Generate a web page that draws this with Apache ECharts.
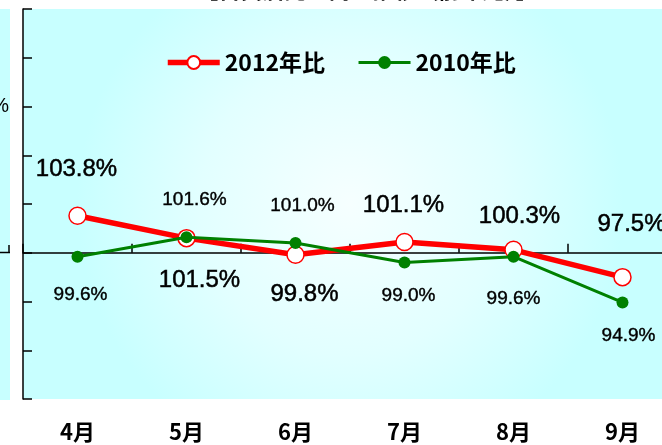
<!DOCTYPE html>
<html>
<head>
<meta charset="utf-8">
<script src="https://cdn.jsdelivr.net/npm/echarts@6/dist/echarts.min.js"></script>
<style>
html,body{margin:0;padding:0;background:#fff;overflow:hidden;}
#c{width:677px;height:445px;}
</style>
</head>
<body>
<div id="c"></div>
<script>
// ---- data ----
const months = ['4月', '5月', '6月', '7月', '8月', '9月'];
const seriesNames = ['2012年比', '2010年比'];
const vs2012 = [103.8, 101.5, 99.8, 101.1, 100.3, 97.5];
const vs2010 = [99.6, 101.6, 101.0, 99.0, 99.6, 94.9];
const baseline = 100;
const yMin = 85, yMax = 125, yStep = 5;
const titleText = '【百貨店売上高の推移（前年比）】';

// ---- label placement (layout only) ----
const offs2012 = [[-1,-46],[13,42],[9,40],[-1,-37],[6,-33],[9,-53]];
const offs2010 = [[3,38],[8,-37],[7,-37],[4,33],[0,42],[6,33]];

const labelFont = '"Liberation Sans", Arial, sans-serif';
const bigSize = 24;
const smallSize = 19;

const fmt = v => v.toFixed(1) + '%';

function build(vals, offs, size) {
  return vals.map((v, i) => ({
    value: +(v - baseline).toFixed(2),
    label: { offset: offs[i], formatter: fmt(v), fontSize: size }
  }));
}

const chart = echarts.init(document.getElementById('c'), null, {renderer: 'canvas'});
chart.setOption({
  animation: false,
  backgroundColor: '#ffffff',
  textStyle: { fontFamily: labelFont },
  grid: {
    left: 23, top: 9, right: 0, bottom: 46,
    show: true, borderWidth: 0,
    backgroundColor: {
      type: 'radial', x: 0.5, y: 0.5, r: 0.7,
      colorStops: [
        { offset: 0, color: '#f6ffff' },
        { offset: 0.55, color: '#e2ffff' },
        { offset: 1, color: '#c8ffff' }
      ]
    }
  },
  legend: {
    left: 160, top: 46,
    itemWidth: 52, itemHeight: 16, itemGap: 32,
    textStyle: { fontFamily: 'Noto Sans CJK JP', fontWeight: 'bold', fontSize: 23, color: '#000' },
    data: [
      { name: seriesNames[0], lineStyle: { width: 5.5 } },
      { name: seriesNames[1], lineStyle: { width: 3 } }
    ]
  },
  xAxis: [{
    type: 'category', data: months, position: 'bottom', boundaryGap: true,
    axisLine: { onZero: true, lineStyle: { color: '#000', width: 1.5 } },
    axisTick: { show: true, inside: true, length: 9, lineStyle: { color: '#000', width: 1.5 } },
    axisLabel: { show: false }
  }, {
    type: 'category', data: months, position: 'bottom', boundaryGap: true,
    axisLine: { show: false, onZero: false },
    axisTick: { show: false },
    axisLabel: { show: true, margin: 22, color: '#000', fontFamily: 'Noto Sans CJK JP', fontWeight: 'bold', fontSize: 22 }
  }],
  yAxis: {
    type: 'value', min: yMin - baseline, max: yMax - baseline, interval: yStep,
    axisLine: { show: true, lineStyle: { color: '#000', width: 1.5 } },
    axisTick: { show: true, inside: true, length: 9, lineStyle: { color: '#000', width: 1.5 } },
    axisLabel: { show: false },
    splitLine: { show: false }
  },
  series: [{
    name: seriesNames[0], type: 'line', xAxisIndex: 0,
    data: build(vs2012, offs2012, bigSize),
    symbol: 'circle', symbolSize: 17,
    lineStyle: { color: '#ff0000', width: 5.5 },
    itemStyle: { color: '#ffffff', borderColor: '#ff0000', borderWidth: 1.5 },
    label: { show: true, position: 'inside', color: '#000', fontFamily: labelFont, textBorderColor: '#000', textBorderWidth: 0.5 },
    emphasis: { disabled: true },
    z: 2
  }, {
    name: seriesNames[1], type: 'line', xAxisIndex: 0,
    data: build(vs2010, offs2010, smallSize),
    symbol: 'circle', symbolSize: 12,
    lineStyle: { color: '#008000', width: 3 },
    itemStyle: { color: '#008000', borderColor: '#008000', borderWidth: 0 },
    label: { show: true, position: 'inside', color: '#000', fontFamily: labelFont, textBorderColor: '#000', textBorderWidth: 0.4 },
    emphasis: { disabled: true },
    z: 3
  }],
  graphic: [
    { type: 'rect', shape: { x: 0, y: 9, width: 10, height: 391 }, style: { fill: '#c8ffff' }, silent: true },
    { type: 'line', shape: { x1: 0, y1: 252.5, x2: 10, y2: 252.5 }, style: { stroke: '#000', lineWidth: 1.5 }, silent: true },
    { type: 'line', shape: { x1: 9, y1: 245, x2: 9, y2: 252.5 }, style: { stroke: '#000', lineWidth: 1.5 }, silent: true },
    { type: 'text', x: 9, y: 106, style: { text: '%', align: 'right', verticalAlign: 'middle', font: '20px ' + labelFont, fill: '#000' }, silent: true },
    { type: 'text', x: 367, y: 1, style: { text: titleText, align: 'center', verticalAlign: 'bottom', font: 'bold 22px "Noto Sans CJK JP"', fill: '#000' }, silent: true }
  ]
});
</script>
</body>
</html>
